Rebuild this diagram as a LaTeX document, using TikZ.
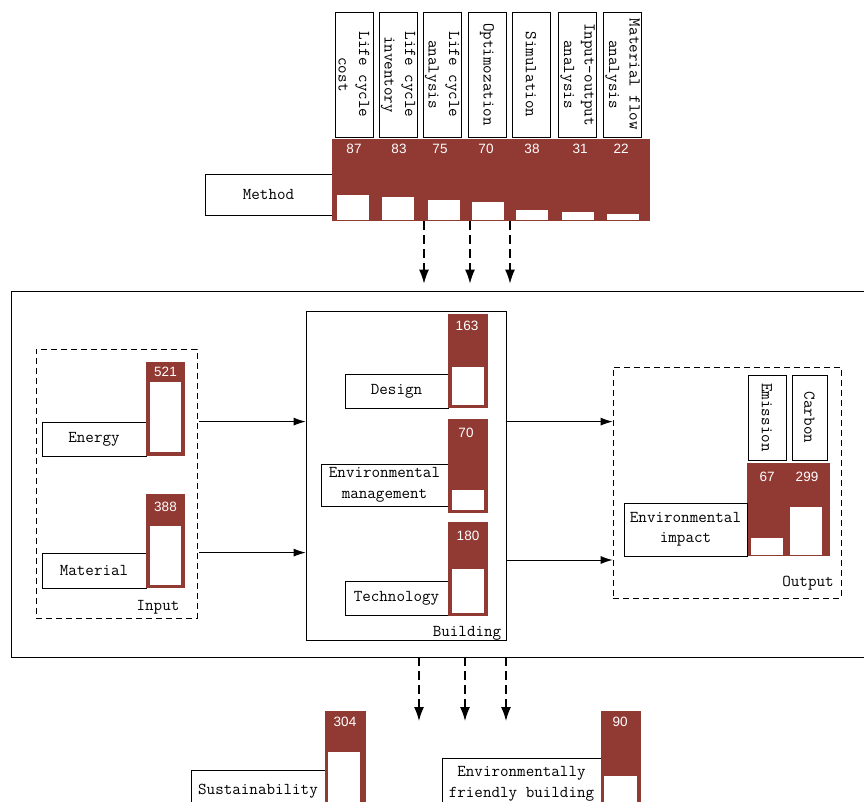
\documentclass[tikz,border=0pt]{standalone}
\usepackage{fontspec}
\newfontfamily\numfont{Liberation Sans}
\usetikzlibrary{arrows.meta}
\definecolor{barred}{RGB}{145,57,51}
\newcommand{\labfont}{\fontsize{16.6}{20.5}\selectfont\ttfamily}

\tikzset{
    box/.style={draw, fill=white, font=\labfont, align=center, inner sep=1pt, line width=0.8pt},
    vbox/.style={box, rotate=-90},
    barbg/.style={fill=barred, inner sep=0pt, anchor=north west},
    barwh/.style={fill=white, inner sep=0pt, anchor=south west},
    num/.style={text=white, font=\numfont\fontsize{13.5}{15}\selectfont, inner sep=0pt},
    grouplbl/.style={font=\labfont, inner sep=0pt},
    dashbox/.style={draw, dash pattern=on 6pt off 4pt, line width=0.8pt, inner sep=0pt},
    arr/.style={-{Latex[length=12pt,width=8pt]}, line width=0.8pt},
    darr/.style={-{Latex[length=14pt,width=10pt]}, line width=1.3pt, dash pattern=on 9pt off 5pt},
}

\begin{document}
\begin{tikzpicture}[x=1pt, y=-1pt]
    \useasboundingbox (0,0) rectangle (864,802);
    \clip (0,0) rectangle (864,802);

    % method row
    \node[box, minimum width=127, minimum height=41] (method) at (268.5,194.5) {Method};
    \node[barbg, minimum width=318, minimum height=82] (methbar) at (332,139) {};
    \foreach \i/\cx/\txt/\nx/\val/\wx/\wh in {
        1/354/{Life cycle\\cost}/354/87/337/25,
        2/398/{Life cycle\\inventory}/399/83/382/23,
        3/442/{Life cycle\\analysis}/440/75/428/20,
        4/487/{Optimozation}/486/70/472/18,
        5/531/{Simulation}/532/38/516/10,
        6/577.5/{Input-output\\analysis}/580/31/562/8,
        7/622.5/{Material flow\\analysis}/621/22/607/6} {
        \node[vbox, minimum width=125, minimum height=38] (m\i) at (\cx,74.5) {\txt};
        \node[num] (mv\i) at (\nx,149) {\val};
        \node[barwh, minimum width=32, minimum height=\wh] (mw\i) at (\wx,220) {};
    }

    % main frame
    \node[draw, line width=0.8pt, minimum width=859, minimum height=366, inner sep=0pt] (frame) at (440.5,474) {};

    \foreach \x in {424,470,510} {
        \coordinate (t\x) at (\x,0);
        \draw[darr] (methbar.south -| t\x) -- ([yshift=7pt]frame.north -| t\x);
    }

    % input
    \node[dashbox, minimum width=161, minimum height=269] (inbox) at (116.5,483.5) {};
    \node[grouplbl] (inlbl) at (158,607) {Input};
    \node[box, minimum width=104, minimum height=34] (energy) at (94,439) {Energy};
    \node[barbg, minimum width=39, minimum height=94] (enbar) at (146,362) {};
    \node[barwh, minimum width=31, minimum height=70] (enwh) at (150,452) {};
    \node[num] (env) at (165.5,372) {521};
    \node[box, minimum width=104, minimum height=35] (material) at (94,570.5) {Material};
    \node[barbg, minimum width=39, minimum height=94] (mabar) at (146,494) {};
    \node[barwh, minimum width=31, minimum height=59] (mawh) at (150,585) {};
    \node[num] (mav) at (165.5,507) {388};

    % building
    \node[draw, line width=0.8pt, minimum width=200, minimum height=329, inner sep=0pt] (bldg) at (406,475.5) {};
    \node[grouplbl] (bldglbl) at (467,633) {Building};
    \node[box, minimum width=103, minimum height=34] (design) at (396.5,391) {Design};
    \node[barbg, minimum width=40, minimum height=94] (debar) at (448,314) {};
    \node[barwh, minimum width=32, minimum height=38] (dewh) at (452,405) {};
    \node[num] (dev) at (467,326) {163};
    \node[box, minimum width=127, minimum height=42] (envman) at (384.5,485) {Environmental\\management};
    \node[barbg, minimum width=40, minimum height=94] (embar) at (448,419) {};
    \node[barwh, minimum width=32, minimum height=20] (emwh) at (452,510) {};
    \node[num] (emv) at (466,433) {70};
    \node[box, minimum width=103, minimum height=34] (tech) at (396.5,598) {Technology};
    \node[barbg, minimum width=40, minimum height=94] (tebar) at (448,522) {};
    \node[barwh, minimum width=32, minimum height=44] (tewh) at (452,613) {};
    \node[num] (tev) at (468,536) {180};

    % output
    \node[dashbox, minimum width=228, minimum height=231] (outbox) at (727,482.5) {};
    \node[grouplbl] (outlbl) at (808,583) {Output};
    \node[vbox, minimum width=85, minimum height=38] (emission) at (767,417.5) {Emission};
    \node[vbox, minimum width=85, minimum height=35] (carbon) at (809.5,417.5) {Carbon};
    \node[barbg, minimum width=83, minimum height=93] (outbar) at (747,463) {};
    \node[barwh, minimum width=32, minimum height=17] (emiwh) at (751,555) {};
    \node[barwh, minimum width=32, minimum height=48] (carwh) at (790,555) {};
    \node[num] (emiv) at (767,477) {67};
    \node[num] (carv) at (807,477) {299};
    \node[box, minimum width=123, minimum height=53] (envimp) at (685.5,529.5) {Environmental\\impact};

    % connectors
    \coordinate (r2) at (0,560);
    \draw[arr] ([xshift=2pt]inbox.east |- energy.north) -- (bldg.west |- energy.north);
    \draw[arr] ([xshift=2pt]inbox.east |- material.north) -- (bldg.west |- material.north);
    \draw[arr] (bldg.east |- energy.north) -- (outbox.west |- energy.north);
    \draw[arr] (bldg.east |- r2) -- (outbox.west |- r2);

    \foreach \x in {419,465,506} {
        \coordinate (b\x) at (\x,721);
        \draw[darr] (frame.south -| b\x) -- (b\x);
    }

    % results
    \node[box, minimum width=134, minimum height=42] (sustain) at (258,791) {Sustainability};
    \node[barbg, minimum width=41, minimum height=130] (subar) at (325,711) {};
    \node[barwh, minimum width=32, minimum height=90] (suwh) at (328,842) {};
    \node[num] (suv) at (345,722) {304};
    \node[box, minimum width=159, minimum height=52] (efb) at (521.5,784) {Environmentally\\friendly building};
    \node[barbg, minimum width=40, minimum height=130] (efbar) at (601,711) {};
    \node[barwh, minimum width=33, minimum height=66] (efwh) at (604,842) {};
    \node[num] (efv) at (620,722) {90};
\end{tikzpicture}
\end{document}
